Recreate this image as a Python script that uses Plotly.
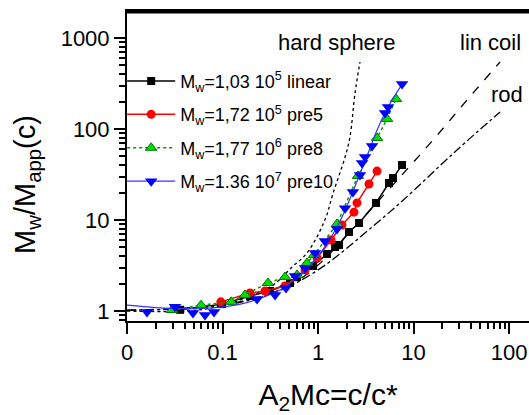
import plotly.graph_objects as go

# series values (x = A2Mc = c/c*, y = Mw/Mapp(c))
lin_x = [0.036, 0.099, 0.194, 0.314, 0.509, 0.603, 0.887, 1.24, 1.51, 1.66, 2.11, 2.69, 4.05, 5.53, 6.09, 7.58]
lin_y = [1.03, 1.19, 1.46, 1.66, 2.03, 2.36, 3.12, 4.23, 5.05, 5.31, 7.38, 9.27, 15.4, 25.5, 28.9, 40.2]

pre5_x = [0.096, 0.194, 0.279, 0.451, 0.731, 0.977, 1.37, 1.78, 2.38, 2.56, 3.42, 4.15]
pre5_y = [1.26, 1.58, 1.66, 1.88, 2.82, 3.82, 6.03, 8.81, 12.2, 15.4, 24.9, 34.5]

pre8_x = [0.0296, 0.0596, 0.123, 0.172, 0.299, 0.451, 0.603, 0.767, 0.908, 1.58, 2.62, 4.15, 5.28, 6.56]
pre8_y = [1.025, 1.16, 1.26, 1.50, 2.03, 2.36, 2.49, 3.37, 4.12, 9.04, 30.5, 79.6, 129, 214]

pre10_x = [0.0162, 0.0318, 0.0491, 0.0656, 0.0815, 0.230, 0.355, 0.462, 0.574, 0.731, 0.931, 1.18,
           1.58, 1.92, 2.32, 2.75, 2.89, 3.11, 3.68, 5.03, 5.41, 7.58]
pre10_y = [0.975, 1.11, 0.95, 0.904, 0.975, 1.355, 1.50, 1.79, 2.42, 2.97, 4.34, 5.88,
           7.96, 13.5, 20.3, 31.2, 42.3, 49.2, 65.0, 150, 175, 312]

# smooth curve drawn through the pre10 data
pre10_fit_x = [0.01, 0.02, 0.04, 0.08, 0.15, 0.25, 0.4, 0.6, 0.9, 1.3, 1.8, 2.5, 3.2, 4.2, 5.5, 7.6]
pre10_fit_y = [1.16, 1.09, 1.06, 1.08, 1.18, 1.38, 1.7, 2.3, 3.5, 5.9, 11, 25, 48, 100, 180, 312]

# model curves
hs_x = [0.01, 0.058, 0.152, 0.338, 0.535, 0.767, 1.18, 1.44, 1.92, 2.16, 2.44, 2.75]
hs_y = [1.0, 1.03, 1.32, 1.93, 3.05, 4.34, 10.0, 19.8, 49.2, 81.7, 249, 545]

coil_x = [0.01, 0.03, 0.1, 0.2, 0.5, 1.0, 2.0, 7.23, 16.0, 36.3, 80.5]
coil_y = [1.02, 1.06, 1.18, 1.35, 1.9, 3.2, 6.8, 29.7, 75.7, 208, 545]

rod_x = [0.01, 0.03, 0.1, 0.3, 0.65, 1.24, 2.0, 3.5, 7.23, 28.5, 80.5]
rod_y = [1.02, 1.05, 1.15, 1.5, 2.15, 3.3, 4.9, 8.0, 15.4, 58.8, 154]

names = ["M<sub>w</sub>=1,03 10<sup>5</sup> linear",
         "M<sub>w</sub>=1,72 10<sup>5</sup> pre5",
         "M<sub>w</sub>=1,77 10<sup>6</sup> pre8",
         "M<sub>w</sub>=1.36 10<sup>7</sup> pre10"]

fig = go.Figure()

fig.add_trace(go.Scatter(x=hs_x, y=hs_y, mode="lines", line=dict(color="black", width=1.3, dash="dot"),
                         line_shape="spline", showlegend=False, hoverinfo="skip"))
fig.add_trace(go.Scatter(x=coil_x, y=coil_y, mode="lines", line=dict(color="black", width=1.3, dash="dash"),
                         line_shape="spline", showlegend=False, hoverinfo="skip"))
fig.add_trace(go.Scatter(x=rod_x, y=rod_y, mode="lines", line=dict(color="black", width=1.3, dash="dashdot"),
                         line_shape="spline", showlegend=False, hoverinfo="skip"))

fig.add_trace(go.Scatter(x=lin_x, y=lin_y, mode="lines+markers", name=names[0], legendgroup="a",
                         line=dict(color="black", width=1.5),
                         marker=dict(symbol="square", size=8, color="black")))
fig.add_trace(go.Scatter(x=pre5_x, y=pre5_y, mode="lines+markers", name=names[1], legendgroup="b",
                         line=dict(color="#ff0000", width=1.5),
                         marker=dict(symbol="circle", size=9, color="#ff0000")))
fig.add_trace(go.Scatter(x=pre8_x, y=pre8_y, mode="lines+markers", name=names[2], legendgroup="c",
                         line=dict(color="#009900", width=1.5, dash="dot"),
                         marker=dict(symbol="triangle-up", size=10, color="#00dd00",
                                     line=dict(color="#007700", width=1))))
fig.add_trace(go.Scatter(x=pre10_fit_x, y=pre10_fit_y, mode="lines", line=dict(color="#3333ff", width=1.2),
                         line_shape="spline", showlegend=False, hoverinfo="skip"))
fig.add_trace(go.Scatter(x=pre10_x, y=pre10_y, mode="markers", showlegend=False,
                         marker=dict(symbol="triangle-down", size=11, color="#0000ff")))
# legend entry for pre10 (line + marker)
fig.add_trace(go.Scatter(x=[None], y=[None], mode="lines+markers", name=names[3], legendgroup="d",
                         line=dict(color="#3333ff", width=1.2),
                         marker=dict(symbol="triangle-down", size=11, color="#0000ff")))

fig.add_annotation(x=0.522, y=0.897, xref="paper", yref="paper", text="hard sphere", showarrow=False,
                   xanchor="center", yanchor="middle", font=dict(size=22))
fig.add_annotation(x=0.903, y=0.897, xref="paper", yref="paper", text="lin coil", showarrow=False,
                   xanchor="center", yanchor="middle", font=dict(size=22))
fig.add_annotation(x=0.945, y=0.732, xref="paper", yref="paper", text="rod", showarrow=False,
                   xanchor="center", yanchor="middle", font=dict(size=22))
# y axis title
fig.add_annotation(x=-0.249, y=0.442, xref="paper", yref="paper", text="M<sub>w</sub>/M<sub>app</sub>(c)",
                   showarrow=False, textangle=-90, xanchor="center", yanchor="middle", font=dict(size=29))

# top frame line, drawn just inside the plot area
fig.add_shape(type="line", xref="paper", yref="paper", x0=0, x1=1, y0=0.996, y1=0.996,
              line=dict(color="black", width=2.5), layer="above")

minor_x = [m * 10 ** e for e in range(-2, 3) for m in range(2, 10)]
minor_y = [m * 10 ** e for e in range(-1, 4) for m in range(2, 10)]

fig.update_xaxes(type="log", range=[-2, 2.209], automargin=False,
                 tickvals=[0.01, 0.1, 1, 10, 100], ticktext=["0", "0.1", "1", "10", "100"],
                 ticks="outside", ticklen=11, tickwidth=1.5, tickcolor="black",
                 minor=dict(tickvals=minor_x, ticks="outside", ticklen=6, tickwidth=1.5, tickcolor="black"),
                 showline=True, linecolor="black", linewidth=2, mirror=True,
                 showgrid=False, zeroline=False, tickfont=dict(size=22),
                 title=dict(text="A<sub>2</sub>Mc=c/c*", font=dict(size=30), standoff=25))
fig.update_yaxes(type="log", range=[-0.110, 3.297], automargin=False,
                 tickvals=[1, 10, 100, 1000], ticktext=["1", "10", "100", "1000"],
                 ticks="outside", ticklen=11, tickwidth=1.5, tickcolor="black",
                 minor=dict(tickvals=minor_y, ticks="outside", ticklen=6, tickwidth=1.5, tickcolor="black"),
                 showline=True, linecolor="black", linewidth=2, mirror=False,
                 showgrid=False, zeroline=False, tickfont=dict(size=22))

fig.update_layout(width=529, height=415,
                  margin=dict(l=127, r=0, t=11, b=94),
                  paper_bgcolor="white", plot_bgcolor="white",
                  font=dict(family="Arial, Liberation Sans, sans-serif", color="black"),
                  legend=dict(x=-0.012, y=0.833, xanchor="left", yanchor="top",
                              bgcolor="rgba(0,0,0,0)", font=dict(size=18),
                              itemwidth=48, tracegroupgap=7))

# page body without default margin so the figure sits at the window's top-left corner
fig.write_html("out.html", config={"displayModeBar": False},
               post_script="document.body.style.margin='0';document.body.style.overflow='hidden';")
